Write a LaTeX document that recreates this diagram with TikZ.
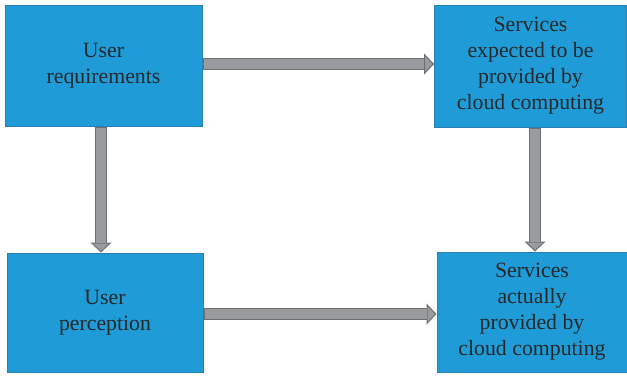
\documentclass[tikz,border=0pt]{standalone}
\usepackage{fontspec}
\setmainfont{Liberation Serif}
\usetikzlibrary{arrows.meta}

\definecolor{boxblue}{HTML}{1F9CD8}
\definecolor{boxedge}{HTML}{2A7FB2}
\definecolor{arrowgray}{HTML}{999B9D}
\definecolor{arrowedge}{HTML}{6D6F71}
\definecolor{textdark}{HTML}{26282A}

\tikzset{
  stage/.style={draw=boxedge, line width=0.5pt, fill=boxblue, text=textdark,
    align=center, inner sep=0pt,
    font=\fontsize{10.9}{13}\selectfont},
  flowout/.style={draw=arrowedge, line width=5.6pt,
    -{Triangle[length=5pt,width=10.5pt,line width=0.5pt,fill=arrowgray]}},
  flowin/.style={draw=arrowgray, line width=4.6pt, shorten >=4.8pt, shorten <=0.5pt}
}

\begin{document}
\begin{tikzpicture}[x=0.5pt, y=-0.5pt]

    % Frame
    \useasboundingbox (0,0) rectangle (627,377);

    % ==========================================
    % Boxes
    % ==========================================
    \node[stage, minimum width=98.5pt, minimum height=60.5pt] (userreq) at (103.5,66)
        {User\\requirements};
    \node[stage, minimum width=96pt, minimum height=61pt] (expected) at (530.5,66)
        {Services\\expected to be\\provided by\\cloud computing};
    \node[stage, minimum width=98pt, minimum height=59.5pt] (perception) at (105,312.5)
        {User\\perception};
    \node[stage, minimum width=95pt, minimum height=60pt] (actual) at (532,312)
        {Services\\actually\\provided by\\cloud computing};

    % Arrow ends
    \coordinate (topstart) at ([yshift=1pt]userreq.east);
    \coordinate (topend) at (topstart -| expected.west);
    \coordinate (botstart) at ([yshift=-0.75pt]perception.east);
    \coordinate (botend) at (botstart -| actual.west);
    \coordinate (leftstart) at ([xshift=-1.25pt]userreq.south);
    \coordinate (leftend) at (leftstart |- perception.north);
    \coordinate (rightstart) at ([xshift=2.25pt]expected.south);
    \coordinate (rightend) at (rightstart |- actual.north);

    % ==========================================
    % Arrows (outline first, then the grey core)
    % ==========================================
    \foreach \a/\b in {topstart/topend, botstart/botend, leftstart/leftend, rightstart/rightend} {
        \draw[flowout] (\a) -- (\b);
        \draw[flowin] (\a) -- (\b);
    }

\end{tikzpicture}
\end{document}
